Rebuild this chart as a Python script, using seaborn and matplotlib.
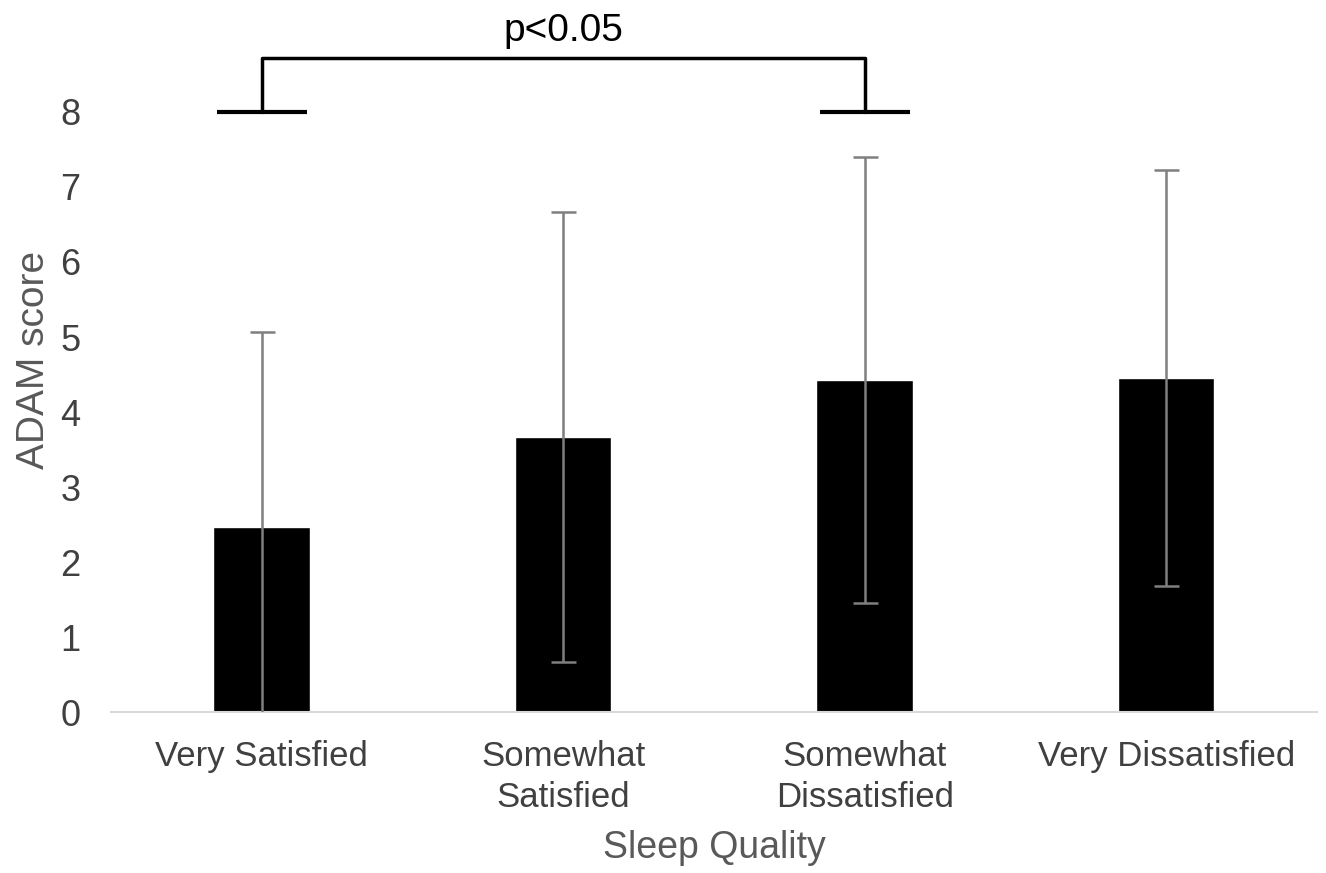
import matplotlib
matplotlib.use("Agg")
import matplotlib.pyplot as plt
import seaborn as sns
import numpy as np
import pandas as pd

# values
categories = ["Very Satisfied", "Somewhat\nSatisfied", "Somewhat\nDissatisfied", "Very Dissatisfied"]
mean_scores = [2.47, 3.67, 4.43, 4.45]
sd_scores = [2.6, 3.0, 2.97, 2.77]
y_ticks = [0, 1, 2, 3, 4, 5, 6, 7, 8]
sig_pair = (0, 2)
sig_label = "p<0.05"

sns.set_theme(style="white")
plt.rcParams['font.family'] = ['Liberation Sans', 'DejaVu Sans']

df = pd.DataFrame({"quality": categories, "score": mean_scores})

fig = plt.figure(figsize=(13.26, 8.73), dpi=100)
ax = fig.add_axes([0.0837, 0.1844, 0.9095, 0.8076])

sns.barplot(data=df, x="quality", y="score", color="black", width=0.32,
            errorbar=None, saturation=1, ax=ax)
ax.errorbar(np.arange(len(categories)), mean_scores, yerr=sd_scores, fmt="none",
            ecolor="#7f7f7f", elinewidth=1.8, capsize=9, capthick=1.8, zorder=3)

ax.set_ylim(0, 9.4)
ax.set_xlim(-0.5, len(categories) - 0.5)
ax.set_yticks(y_ticks)
ax.tick_params(axis="x", labelsize=25, colors="#404040", length=0, pad=20)
ax.tick_params(axis="y", labelsize=26, colors="#404040", length=0, pad=22)
for lbl in ax.get_xticklabels():
    lbl.set_linespacing(1.3)
for s in ["top", "right", "left"]:
    ax.spines[s].set_visible(False)
ax.spines["bottom"].set_color("#d9d9d9")
ax.spines["bottom"].set_linewidth(1.5)

ax.set_xlabel("Sleep Quality", fontsize=27, color="#595959", labelpad=12)
ax.set_ylabel("ADAM score", fontsize=28, color="#595959", labelpad=6)

# significance bracket
a, b = sig_pair
base, top = 8.0, 8.72
for xc in (a, b):
    ax.plot([xc - 0.15, xc + 0.15], [base, base], color="black", lw=3, clip_on=False,
            solid_capstyle="butt")
ax.plot([a, a, b, b], [base, top, top, base], color="black", lw=2.5, clip_on=False)
ax.text((a + b) / 2, top + 0.12, sig_label, ha="center", va="bottom", fontsize=28,
        color="black")

fig.savefig("out.png", dpi=100)
